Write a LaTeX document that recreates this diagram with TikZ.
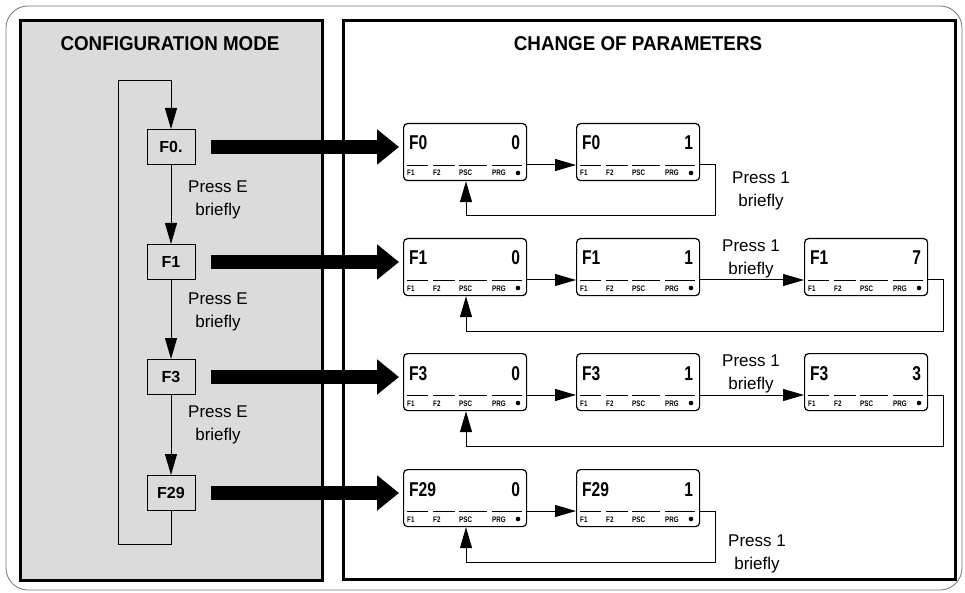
\documentclass[tikz,border=0pt]{standalone}
\usepackage{fontspec}
\setmainfont{Liberation Sans}
\newfontfamily\dispfont[FakeStretch=0.78]{Liberation Sans}
\newfontfamily\ttlfont[FakeStretch=0.94]{Liberation Sans}
\usetikzlibrary{arrows.meta}
\tikzset{
  panel/.style={line width=3pt, draw=black},
  fbox/.style={draw, line width=1pt, minimum width=48pt, minimum height=35pt, inner sep=0pt, font=\bfseries\fontsize{16}{16}\selectfont},
  conn/.style={draw, line width=1pt, -{Triangle[length=21pt,width=12pt]}},
  big/.style={line width=14pt, -{Triangle[length=22pt,width=34pt]}},
  disp/.style={draw, line width=1.2pt, rounded corners=4pt, minimum width=123pt, minimum height=57pt, inner sep=0pt},
  dtxt/.style={inner sep=0pt, font=\dispfont\bfseries\fontsize{20}{20}\selectfont},
  stxt/.style={inner sep=0pt, font=\dispfont\bfseries\fontsize{8}{8}\selectfont},
  seg/.style={line width=0.8pt},
  lbl/.style={align=center, inner sep=0pt, font=\fontsize{17}{23}\selectfont},
  ttl/.style={inner sep=0pt, font=\ttlfont\bfseries\fontsize{20}{24}\selectfont},
}
\newcommand{\dispbox}[5]{%
  \node[disp, anchor=north west] (#1) at (#2,#3) {};
  \node[dtxt, anchor=base west] (#1-l) at ([shift={(6,27)}]#1.north west) {#4};
  \node[dtxt, anchor=base east] (#1-v) at ([shift={(-7,27)}]#1.north east) {#5};
  \foreach \p/\q in {4/25,30/52,56/84,89/119}{%
    \draw[seg] ([shift={(\p,42)}]#1.north west) -- ([shift={(\q,42)}]#1.north west);}
  \node[stxt, anchor=base west] (#1-a) at ([shift={(4,53)}]#1.north west) {F1};
  \node[stxt, anchor=base west] (#1-b) at ([shift={(30,53)}]#1.north west) {F2};
  \node[stxt, anchor=base west] (#1-c) at ([shift={(56,53)}]#1.north west) {PSC};
  \node[stxt, anchor=base west] (#1-d) at ([shift={(89,53)}]#1.north west) {PRG};
  \fill ([shift={(115,50)}]#1.north west) circle (2.3pt);
}
\begin{document}
\begin{tikzpicture}[x=1pt,y=-1pt]
\useasboundingbox (0,0) rectangle (965,593);
\draw[black!55, line width=0.8pt, rounded corners=22pt] (6,6) rectangle (962,590);
% panels
\draw[panel, fill=black!14] (20,21) rectangle (322,580);
\draw[panel] (343,21) rectangle (955,579);
\node[ttl] (t1) at (170,44) {CONFIGURATION MODE};
\node[ttl] (t2) at (638,44) {CHANGE OF PARAMETERS};
% left flow
\node[fbox] (f0) at (171,147) {F0.};
\node[fbox] (f1) at (171,262) {F1};
\node[fbox] (f3) at (171,377) {F3};
\node[fbox] (f29) at (171,493) {F29};
\draw[conn] (f0) -- (f1);
\draw[conn] (f1) -- (f3);
\draw[conn] (f3) -- (f29);
\coordinate (lc) at (118,81);
\draw[conn] (f29.south) -- ++(0,33) -| (lc) -| (f0.north);
\node[lbl] (p1) at (218,200) {Press E\\briefly};
\node[lbl] (p2) at (218,312) {Press E\\briefly};
\node[lbl] (p3) at (218,425) {Press E\\briefly};
% display boxes
\dispbox{d11}{403}{123}{F0}{0}
\dispbox{d12}{576}{123}{F0}{1}
\dispbox{d21}{403}{238}{F1}{0}
\dispbox{d22}{576}{238}{F1}{1}
\dispbox{d23}{804}{238}{F1}{7}
\dispbox{d31}{403}{353}{F3}{0}
\dispbox{d32}{576}{353}{F3}{1}
\dispbox{d33}{804}{353}{F3}{3}
\dispbox{d41}{403}{469}{F29}{0}
\dispbox{d42}{576}{469}{F29}{1}
% big arrows
\path (f0.east -| d11.west) coordinate (b0);
\path (f1.east -| d21.west) coordinate (b1);
\path (f3.east -| d31.west) coordinate (b3);
\path (f29.east -| d41.west) coordinate (b29);
\draw[big] ([shift={(15,0)}]f0.east) -- ([shift={(-4,0)}]b0);
\draw[big] ([shift={(15,0)}]f1.east) -- ([shift={(-4,0)}]b1);
\draw[big] ([shift={(15,0)}]f3.east) -- ([shift={(-4,0)}]b3);
\draw[big] ([shift={(15,0)}]f29.east) -- ([shift={(-4,0)}]b29);
% row connectors
\draw[conn] ([shift={(0,42)}]d11.north east) -- ([shift={(0,42)}]d12.north west);
\draw[conn] ([shift={(0,42)}]d12.north east) -- ++(15,0) |- ([shift={(63,93)}]d11.north west) -- ([shift={(63,0)}]d11.south west);
\draw[conn] ([shift={(0,42)}]d21.north east) -- ([shift={(0,42)}]d22.north west);
\draw[conn] ([shift={(0,42)}]d22.north east) -- ([shift={(0,42)}]d23.north west);
\draw[conn] ([shift={(0,42)}]d23.north east) -- ++(15,0) |- ([shift={(63,93)}]d21.north west) -- ([shift={(63,0)}]d21.south west);
\draw[conn] ([shift={(0,42)}]d31.north east) -- ([shift={(0,42)}]d32.north west);
\draw[conn] ([shift={(0,42)}]d32.north east) -- ([shift={(0,42)}]d33.north west);
\draw[conn] ([shift={(0,42)}]d33.north east) -- ++(15,0) |- ([shift={(63,93)}]d31.north west) -- ([shift={(63,0)}]d31.south west);
\draw[conn] ([shift={(0,42)}]d41.north east) -- ([shift={(0,42)}]d42.north west);
\draw[conn] ([shift={(0,42)}]d42.north east) -- ++(15,0) |- ([shift={(63,93)}]d41.north west) -- ([shift={(63,0)}]d41.south west);
% press 1 labels
\node[lbl] (q1) at (761,191) {Press 1\\briefly};
\node[lbl] (q2) at (751,259) {Press 1\\briefly};
\node[lbl] (q3) at (751,374) {Press 1\\briefly};
\node[lbl] (q4) at (757,554) {Press 1\\briefly};
\end{tikzpicture}
\end{document}
